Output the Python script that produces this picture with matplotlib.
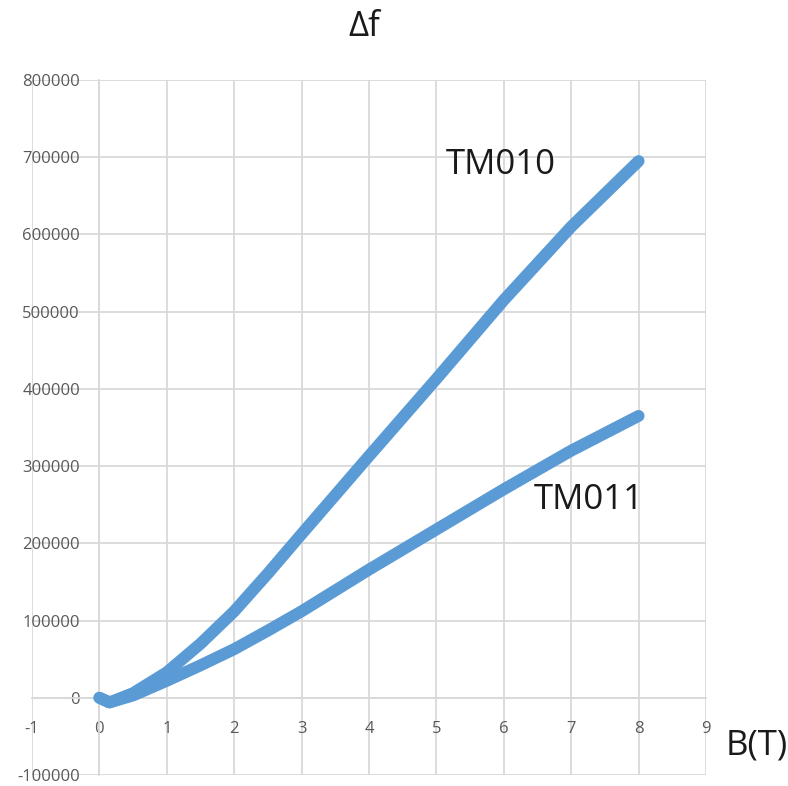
import matplotlib
matplotlib.use("Agg")
import matplotlib.pyplot as plt
from matplotlib.ticker import FixedLocator

# Frequency shift of two cavity modes versus magnetic field
b_field = [0, 0.15, 0.5, 1, 1.5, 2, 2.5, 3, 4, 5, 6, 7, 8]
tm010 = [0, -6000, 6000, 33000, 70000, 112000, 161000, 212000, 313000, 413000, 515000, 610000, 695000]
tm011 = [0, -6000, 3000, 22000, 42000, 63000, 87000, 112000, 166000, 218000, 270000, 320000, 365000]

x_ticks = [-1, 0, 1, 2, 3, 4, 5, 6, 7, 8, 9]
y_ticks = [-100000, 0, 100000, 200000, 300000, 400000, 500000, 600000, 700000, 800000]

line_color = "#5B9BD5"
grid_color = "#D9D9D9"
label_color = "#595959"
text_color = "#1A1A1A"
font = ["Open Sans", "DejaVu Sans"]

W, H = 788, 786
fig = plt.figure(figsize=(W / 100, H / 100), dpi=100)
ax = fig.add_axes([32 / W, 11 / H, (706 - 32) / W, (775 - 80) / H])

ax.set_xlim(-1, 9)
ax.set_ylim(-100000, 800000)
ax.xaxis.set_major_locator(FixedLocator(x_ticks))
ax.yaxis.set_major_locator(FixedLocator(y_ticks))
ax.set_xticklabels([str(v) for v in x_ticks])
ax.set_yticklabels([str(v) for v in y_ticks])

ax.grid(True, color=grid_color, linewidth=1.3, zorder=0)
ax.set_axisbelow(True)

for side in ("top", "right"):
    ax.spines[side].set_visible(False)
ax.spines["left"].set_position(("data", 0))
ax.spines["bottom"].set_position(("data", 0))
for side in ("left", "bottom"):
    ax.spines[side].set_color(grid_color)
    ax.spines[side].set_linewidth(1.3)

ax.tick_params(axis="both", length=0, colors=label_color, labelsize=12)
ax.tick_params(axis="y", pad=14)
ax.tick_params(axis="x", pad=17)
for lbl in ax.get_xticklabels() + ax.get_yticklabels():
    lbl.set_family(font)

for series in (tm010, tm011):
    ax.plot(b_field, series, color=line_color, linewidth=8.6,
            solid_capstyle="round", solid_joinstyle="round", zorder=3)

ax.text(5.96, 689500, "TM010", fontsize=25, family=font, color=text_color,
        ha="center", va="center", zorder=4)
ax.text(7.26, 256000, "TM011", fontsize=25, family=font, color=text_color,
        ha="center", va="center", zorder=4)

fig.text(364 / W, 1 - 27 / H, "Δf", fontsize=25, family=font, color=text_color,
         ha="center", va="center")
fig.text(757 / W, 1 - 745 / H, "B(T)", fontsize=25, family=font, color=text_color,
         ha="center", va="center")

fig.savefig("out.png", dpi=100)
